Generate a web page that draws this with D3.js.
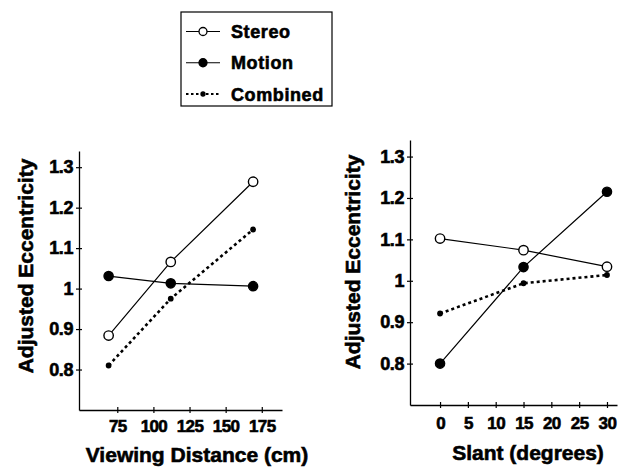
<!DOCTYPE html>
<html>
<head>
<meta charset="utf-8">
<script src="https://cdn.jsdelivr.net/npm/d3@7"></script>
<style>
  body { margin: 0; background: #fff; }
  svg { display: block; font-family: "Liberation Sans", Arial, Helvetica, sans-serif; font-weight: bold; }
  svg text { stroke: #000; stroke-width: 0.6px; fill: #000; }
</style>
</head>
<body>
<svg id="chart"></svg>
<script>
// DATA

const seriesNames = ["Stereo", "Motion", "Combined"];

const distance = [69, 112, 169];
const stereoDist = [0.884, 1.066, 1.264];
const motionDist = [1.031, 1.013, 1.006];
const combinedDist = [0.81, 0.975, 1.146];

const slant = [0, 15, 30];
const stereoSlant = [1.102, 1.074, 1.034];
const motionSlant = [0.80, 1.033, 1.215];
const combinedSlant = [0.921, 0.994, 1.014];

const distTicks = [75, 100, 125, 150, 175];
const slantTicks = [0, 5, 10, 15, 20, 25, 30];
const eccTicks = [0.8, 0.9, 1, 1.1, 1.2, 1.3];

const width = 620;
const height = 469;

const svg = d3.select("#chart")
  .attr("width", width)
  .attr("height", height);

// series look
const styles = {
  Stereo:   { dash: null,  sw: 1.2, r: 4.7, fill: "#fff" },
  Motion:   { dash: null,  sw: 1.2, r: 4.6, fill: "#000" },
  Combined: { dash: "3,3", sw: 2.6, r: 2.2, fill: "#000" }
};

// PANELS

const panels = [
  {
    xs: distance,
    series: [stereoDist, motionDist, combinedDist],
    xDomain: [48.5, 189], xRange: [79, 282],
    yRange: [410, 151],
    xTicks: distTicks,
    xTitle: "Viewing Distance (cm)", xTitlePos: [197, 462],
    yTitlePos: [33, 266],
    labelGap: 22
  },
  {
    xs: slant,
    series: [stereoSlant, motionSlant, combinedSlant],
    xDomain: [-5.4, 31.8], xRange: [410, 617],
    yRange: [405, 140],
    xTicks: slantTicks,
    xTitle: "Slant (degrees)", xTitlePos: [528, 460],
    yTitlePos: [360, 262],
    labelGap: 24
  }
];

panels.forEach(p => {

  const x = d3.scaleLinear().domain(p.xDomain).range(p.xRange);
  const y = d3.scaleLinear().domain([0.7, 1.34]).range(p.yRange);

  const g = svg.append("g");

  // x axis
  const xAxis = g.append("g")
    .attr("transform", `translate(0,${p.yRange[0]})`)
    .call(d3.axisBottom(x).tickValues(p.xTicks).tickSize(0).tickFormat(String));

  xAxis.attr("font-family", null).attr("font-size", null);
  xAxis.select(".domain").attr("stroke", "#000").attr("stroke-width", 1.3);
  xAxis.selectAll(".tick line").remove();
  xAxis.selectAll(".tick").append("line")
    .attr("y1", -3).attr("y2", 3)
    .attr("stroke", "#000").attr("stroke-width", 1.2);
  xAxis.selectAll(".tick text")
    .attr("y", p.labelGap).attr("dy", null)
    .style("font-size", "17px")
    .style("letter-spacing", "-0.6px");

  // y axis
  const yAxis = g.append("g")
    .attr("transform", `translate(${p.xRange[0]},0)`)
    .call(d3.axisLeft(y).tickValues(eccTicks).tickSize(0).tickPadding(6).tickFormat(String));

  yAxis.attr("font-family", null).attr("font-size", null);
  yAxis.select(".domain").attr("stroke", "#000").attr("stroke-width", 1.3);
  yAxis.selectAll(".tick").append("line")
    .attr("x1", -3).attr("x2", 3)
    .attr("stroke", "#000").attr("stroke-width", 1.2);
  yAxis.selectAll(".tick text")
    .style("font-size", "18px")
    .style("letter-spacing", "-0.4px");

  // titles
  g.append("text")
    .attr("x", p.xTitlePos[0]).attr("y", p.xTitlePos[1])
    .attr("text-anchor", "middle")
    .style("font-size", "21px")
    .text(p.xTitle);

  g.append("text")
    .attr("transform", `translate(${p.yTitlePos[0]},${p.yTitlePos[1]}) rotate(-90)`)
    .attr("text-anchor", "middle")
    .style("font-size", "21px")
    .text("Adjusted Eccentricity");

  // lines + markers
  p.series.forEach((vals, i) => {

    const st = styles[seriesNames[i]];
    const pts = vals.map((v, j) => [p.xs[j], v]);

    g.append("path")
      .datum(pts)
      .attr("fill", "none")
      .attr("stroke", "#000")
      .attr("stroke-width", st.sw)
      .attr("stroke-dasharray", st.dash)
      .attr("d", d3.line().x(d => x(d[0])).y(d => y(d[1])));

    g.selectAll(null)
      .data(pts)
      .enter()
      .append("circle")
      .attr("cx", d => x(d[0]))
      .attr("cy", d => y(d[1]))
      .attr("r", st.r)
      .attr("fill", st.fill)
      .attr("stroke", "#000")
      .attr("stroke-width", 1.4);
  });

});

// LEGEND

const legend = svg.append("g");

legend.append("rect")
  .attr("x", 181).attr("y", 12)
  .attr("width", 151).attr("height", 94)
  .attr("fill", "none")
  .attr("stroke", "#000")
  .attr("stroke-width", 1.2);

const legendY = d3.scalePoint()
  .domain(seriesNames)
  .range([31.5, 94]);

seriesNames.forEach(name => {

  const st = styles[name];
  const ly = legendY(name);

  legend.append("line")
    .attr("x1", 186).attr("x2", 220)
    .attr("y1", ly).attr("y2", ly)
    .attr("stroke", "#000")
    .attr("stroke-width", name === "Combined" ? 2 : 1.2)
    .attr("stroke-dasharray", name === "Combined" ? "2.5,2.5" : null);

  legend.append("circle")
    .attr("cx", 203).attr("cy", ly)
    .attr("r", name === "Combined" ? 2 : 4)
    .attr("fill", st.fill)
    .attr("stroke", "#000")
    .attr("stroke-width", 1.3);

  legend.append("text")
    .attr("x", 231).attr("y", ly + 6.5)
    .style("font-size", "18px")
    .style("letter-spacing", "0.6px")
    .text(name);
});
</script>
</body>
</html>
